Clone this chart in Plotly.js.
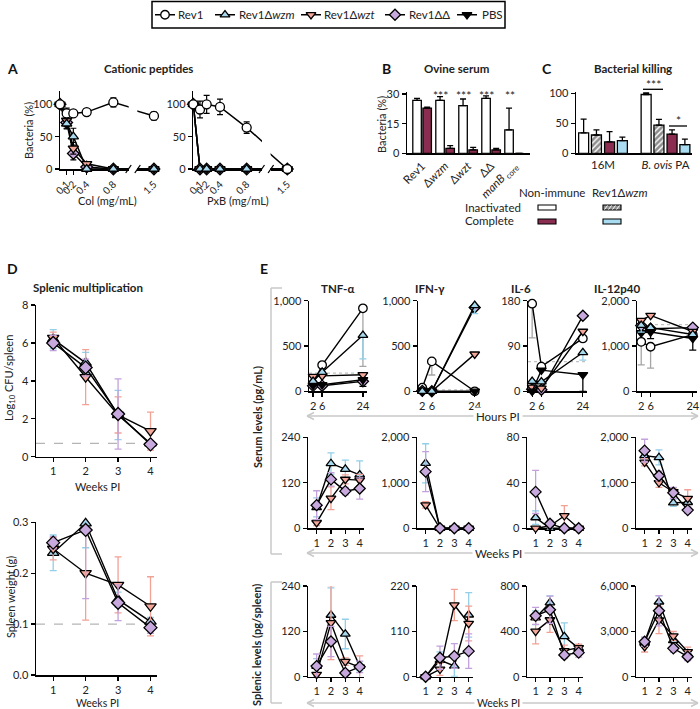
<!DOCTYPE html>
<html><head><meta charset="utf-8">
<script src="https://cdn.plot.ly/plotly-3.0.1.min.js"></script>
<style>html,body{margin:0;padding:0;background:#fff}#chart{width:700px;height:709px}</style>
</head><body><div id="chart"></div>
<script>
// ================= DATA =================
// Panel A – cationic peptides (Bacteria %)
const doses = [0, 0.1, 0.2, 0.4, 0.8, 1.5];
const doseTickVals1 = [0.1, 0.2, 0.4, 0.8];
const doseTickVals2 = [1.5];
const colRev1 = [100, 86, 86, 88, 103, 82];
const colRev1Err = [3, 8, 4, 5, 7, 6];
const colWzm = [100, 70, 50, 0, 0, 0];
const colWzmErr = [2, 8, 13, 1, 0, 0];
const colWzt = [100, 75, 32, 8, 0, 0];
const colWztErr = [2, 9, 9, 3, 0, 0];
const colDD = [100, 72, 24, 3, 0, 0];
const colDDErr = [2, 9, 10, 2, 0, 0];
const pxbRev1 = [100, 92, 100, 96, 64, 0];
const pxbRev1Err = [2, 13, 14, 12, 9, 2];
const pxbWzm = [100, 0, 0, 0, 0, 0];
const pxbWzt = [100, 0, 0, 0, 0, 0];
const pxbDD = [100, 0, 0, 0, 0, 0];
const pxbMutErr = [0, 0, 0, 0, 0, 0];

// Panel B – ovine serum
const serumStrains = ['Rev1', 'Δ<i>wzm</i>', 'Δ<i>wzt</i>', 'ΔΔ', '<i>manB</i><sub> core</sub>'];
const serumInactivated = [26.8, 26.8, 24.1, 27.8, 11.9];
const serumInactivatedErr = [1.0, 1.9, 3.4, 1.3, 11.0];
const serumComplete = [22.9, 2.5, 1.7, 1.7, 0];
const serumCompleteErr = [0.5, 1.4, 1.3, 0.8, 0];
const serumStars = ['', '***', '***', '***', '**'];
const serumTicks = [0, 15, 30];

// Panel C – bacterial killing
const killStrains = ['16M', '<i>B. ovis</i> PA'];
const killNonImmInact = [34, 98];
const killNonImmInactErr = [23, 2.5];
const killWzmInact = [30.5, 47];
const killWzmInactErr = [8.5, 9.7];
const killNonImmComp = [19, 32];
const killNonImmCompErr = [17, 7];
const killWzmComp = [21, 14.6];
const killWzmCompErr = [6, 9];
const killTicks = [0, 50, 100];

// Panel D – splenic multiplication
const weeks = [1, 2, 3, 4];
const cfuWzm = [6.2, 4.95, 2.2, 0.7];
const cfuWzmErr = [0.5, 0.55, 1.3, 0.05];
const cfuWzt = [6.27, 4.2, 2.2, 1.35];
const cfuWztErr = [0.3, 1.45, 0.95, 1.0];
const cfuDD = [6.0, 4.7, 2.25, 0.65];
const cfuDDErr = [0.4, 0.45, 1.85, 0.15];
const cfuLimit = 0.7;
const cfuTicks = [0, 2, 4, 6, 8];
const weightWzm = [0.24, 0.298, 0.148, 0.105];
const weightWzmErr = [0.035, 0.048, 0.015, 0.008];
const weightWzt = [0.248, 0.2, 0.177, 0.135];
const weightWztErr = [0.022, 0.092, 0.055, 0.058];
const weightDD = [0.26, 0.285, 0.142, 0.093];
const weightDDErr = [0.012, 0.135, 0.035, 0.011];
const weightLimit = 0.1;
const weightTicks = [0, 0.1, 0.2, 0.3];

// Panel E – cytokines
const cytokines = ['TNF-α', 'IFN-γ', 'IL-6', 'IL-12p40'];
const hoursPI = [2, 6, 24];
// Row 1: serum, hours PI  (errors are lower-only)
const tnfHRev1 = [80, 290, 916],   tnfHRev1Err = [0, 0, 640];
const tnfHWzm = [110, 211, 618],   tnfHWzmErr = [0, 0, 260];
const tnfHWzt = [164, 170, 182],   tnfHWztErr = [0, 0, 0];
const tnfHDD = [60, 62, 110],      tnfHDDErr = [0, 0, 0];
const tnfHPBS = [65, 73, 128],     tnfHPBSErr = [0, 0, 73];
const ifnHRev1 = [40, 330, 0],     ifnHRev1Err = [0, 150, 0];
const ifnHWzm = [0, 0, 948],       ifnHWzmErr = [0, 0, 90];
const ifnHWzt = [10, 0, 410],      ifnHWztErr = [0, 0, 0];
const ifnHDD = [5, 0, 925],        ifnHDDErr = [0, 0, 0];
const ifnHPBS = [0, 0, 0],         ifnHPBSErr = [0, 0, 0];
const il6HRev1 = [174, 49, 105],   il6HRev1Err = [68, 0, 0];
const il6HWzm = [20, 19, 77],      il6HWzmErr = [0, 0, 15];
const il6HWzt = [8, 6, 119],       il6HWztErr = [0, 0, 0];
const il6HDD = [4, 3, 150],        il6HDDErr = [0, 0, 0];
const il6HPBS = [0, 42, 33],       il6HPBSErr = [0, 0, 33];
const il12HRev1 = [1092, 983, 1250], il12HRev1Err = [510, 470, 0];
const il12HWzm = [1456, 1406, 1253], il12HWzmErr = [150, 0, 0];
const il12HWzt = [1565, 1675, 1320], il12HWztErr = [0, 0, 0];
const il12HDD = [1450, 1380, 1406],  il12HDDErr = [0, 0, 0];
const il12HPBS = [1290, 1310, 1165], il12HPBSErr = [0, 145, 255];
const serumHourRefs = [200, 15, 59, 1471];
const row1Max = [1000, 1000, 180, 2000];
const row1Ticks = [[0, 500, 1000], [0, 500, 1000], [0, 90, 180], [0, 1000, 2000]];
// Row 2: serum, weeks PI
const tnfSWzm = [55, 171, 156, 141],   tnfSWzmErr = [25, 28, 24, 37];
const tnfSWzt = [15, 79, 129, 127],    tnfSWztErr = [8, 30, 12, 15];
const tnfSDD = [61, 129, 98, 105],     tnfSDDErr = [38, 18, 10, 28];
const ifnSWzm = [1428, 0, 0, 0],       ifnSWzmErr = [430, 0, 0, 0];
const ifnSWzt = [513, 0, 0, 0],        ifnSWztErr = [70, 0, 0, 0];
const ifnSDD = [1245, 0, 0, 0],        ifnSDDErr = [440, 0, 0, 0];
const il6SWzm = [9.4, 0, 0, 0],        il6SWzmErr = [6, 0, 0, 0];
const il6SWzt = [0, 2, 11, 0],         il6SWztErr = [0, 1, 9, 0];
const il6SDD = [32, 4, 0, 0],          il6SDDErr = [19, 3, 0, 0];
const il12SWzm = [1597, 1557, 562, 570], il12SWzmErr = [150, 165, 80, 100];
const il12SWzt = [1451, 1000, 804, 657], il12SWztErr = [80, 100, 80, 190];
const il12SDD = [1707, 1154, 780, 400],  il12SDDErr = [250, 100, 120, 70];
const row2Max = [240, 2000, 80, 2000];
const row2Ticks = [[0, 120, 240], [0, 1000, 2000], [0, 40, 80], [0, 1000, 2000]];
// Row 3: spleen, weeks PI
const tnfPWzm = [28, 163, 113, 28],    tnfPWzmErr = [20, 72, 39, 12];
const tnfPWzt = [6, 143, 40, 25],      tnfPWztErr = [5, 98, 10, 30];
const tnfPDD = [28, 93, 10, 26],       tnfPDDErr = [32, 40, 8, 15];
const ifnPWzm = [0, 40, 26, 150],      ifnPWzmErr = [0, 20, 25, 54];
const ifnPWzt = [0, 18, 174, 129],     ifnPWztErr = [0, 15, 38, 42];
const ifnPDD = [0, 46, 50, 62],        ifnPDDErr = [0, 28, 30, 42];
const il6PWzm = [520, 653, 354, 250],  il6PWzmErr = [60, 60, 120, 30];
const il6PWzt = [400, 501, 229, 256],  il6PWztErr = [110, 110, 50, 30];
const il6PDD = [537, 590, 192, 212],   il6PDDErr = [75, 120, 30, 40];
const il12PWzm = [2300, 4950, 2400, 1500], il12PWzmErr = [300, 400, 400, 250];
const il12PWzt = [1984, 3750, 2690, 1650], il12PWztErr = [350, 900, 300, 300];
const il12PDD = [2315, 4365, 1876, 1323],  il12PDDErr = [300, 1000, 250, 250];
const row3Max = [240, 220, 800, 6000];
const row3Ticks = [[0, 120, 240], [0, 110, 220], [0, 400, 800], [0, 3000, 6000]];

// ================= STYLE / LAYOUT HELPERS =================
const W = 700, H = 709;
const FONT = 'Lato, "Open Sans", "Liberation Sans", sans-serif';
const PX = v => v / W;
const PY = v => 1 - v / H;
const SERIES = ['rev1', 'wzm', 'wzt', 'dd', 'pbs'];
const NAMES = {rev1: 'Rev1', wzm: 'Rev1Δ<i>wzm</i>', wzt: 'Rev1Δ<i>wzt</i>', dd: 'Rev1ΔΔ', pbs: 'PBS'};
const STY = {
  rev1: {symbol: 'circle', fill: '#ffffff', err: '#a5a5a5'},
  wzm: {symbol: 'triangle-up', fill: '#a8d9ee', err: '#93cfe8'},
  wzt: {symbol: 'triangle-down', fill: '#f4a89b', err: '#f2a195'},
  dd: {symbol: 'diamond', fill: '#c8a9dd', err: '#c3a1dc'},
  pbs: {symbol: 'triangle-down', fill: '#000000', err: '#000000'}
};
const MAROON = '#8b2d50', LIGHTBLUE = '#a9dcf0', HATCH = '#8e8e8e', GREY = '#c9c9c9';
function mk(key, size) {
  return {symbol: STY[key].symbol, color: STY[key].fill, size: size || 9, line: {color: '#000', width: 1.3}};
}

const layout = {
  width: W, height: H, margin: {l: 0, r: 0, t: 0, b: 0},
  paper_bgcolor: '#fff', plot_bgcolor: 'rgba(0,0,0,0)',
  font: {family: FONT, size: 11, color: '#222'},
  separators: '.,', barmode: 'overlay', hovermode: false,
  showlegend: false,
  shapes: [], annotations: []
};
function baseAxis() {
  return {showline: true, linecolor: '#000', linewidth: 1.5, ticks: 'outside', ticklen: 4,
    tickwidth: 1.3, tickcolor: '#000', showgrid: false, zeroline: false, fixedrange: true,
    layer: 'below traces', tickfont: {family: FONT, size: 11, color: '#222'}};
}
const key = (n, l) => (l === 'x' ? 'xaxis' : 'yaxis') + (n === 1 ? '' : n);
const id = (n, l) => l + (n === 1 ? '' : n);
function addX(n, x0, x1, range, anchorN, extra) {
  layout[key(n, 'x')] = Object.assign(baseAxis(), {domain: [PX(x0), PX(x1)], range: range, anchor: id(anchorN, 'y')}, extra || {});
}
function addY(n, top, bottom, range, anchorN, extra) {
  layout[key(n, 'y')] = Object.assign(baseAxis(), {domain: [PY(bottom), PY(top)], range: range, anchor: id(anchorN, 'x')}, extra || {});
}
function text(x, y, t, opts) {
  layout.annotations.push(Object.assign({xref: 'paper', yref: 'paper', x: PX(x), y: PY(y), text: t,
    showarrow: false, xanchor: 'center', yanchor: 'middle', font: {family: FONT, size: 11, color: '#222'}}, opts || {}));
}
function line(x0, y0, x1, y1, color, width, dash) {
  layout.shapes.push({type: 'line', xref: 'paper', yref: 'paper', x0: PX(x0), y0: PY(y0), x1: PX(x1), y1: PY(y1),
    line: {color: color || '#000', width: width || 1.3, dash: dash || 'solid'}});
}
function rect(x0, y0, x1, y1, fill, lw) {
  layout.shapes.push({type: 'rect', xref: 'paper', yref: 'paper', x0: PX(x0), y0: PY(y0), x1: PX(x1), y1: PY(y1),
    fillcolor: fill, line: {color: '#000', width: lw || 1.1}});
}
const traces = [];

// ================= TOP LEGEND (drawn on a hidden helper axis) =================
const legBox = [152, 505];
const legSampleX = [165, 225, 311, 395, 467];
const legTextX = [176, 237, 322, 407, 480];
rect(legBox[0], 1.5, legBox[1], 28, 'rgba(0,0,0,0)', 1.5);
addX(21, legBox[0], legBox[1], legBox, 21, {visible: false});
addY(21, 1.5, 28, [0, 1], 21, {visible: false});
SERIES.forEach((k, i) => {
  const cx = legSampleX[i];
  traces.push({type: 'scatter', mode: 'lines', x: [cx - 10, cx + 10], y: [0.5, 0.5], xaxis: 'x21', yaxis: 'y21',
    line: {color: '#000', width: 1.4}, showlegend: false, hoverinfo: 'skip'});
  traces.push({type: 'scatter', mode: 'markers', x: [cx], y: [0.5], xaxis: 'x21', yaxis: 'y21',
    marker: mk(k, 8.5), showlegend: false, hoverinfo: 'skip', cliponaxis: false});
  text(legTextX[i], 15, NAMES[k], {xanchor: 'left', font: {family: FONT, size: 11.5, color: '#222'}});
});

// ================= PANEL A =================
const aY = [91.4, 169];
const aTickFont = {family: FONT, size: 10, color: '#222'};
addY(1, aY[0], aY[1], [0, 120], 1, {tickvals: [0, 50, 100]});
addX(1, 60, 128.7, [0, 1.03], 1, {tickvals: doseTickVals1, tickangle: -45, tickfont: aTickFont});
addX(2, 137.3, 158.6, [1.25, 1.57], 1, {tickvals: doseTickVals2, tickangle: -45, tickfont: aTickFont});
addY(3, aY[0], aY[1], [0, 120], 3, {tickvals: [0, 50, 100]});
addX(3, 193.3, 262, [0, 1.03], 3, {tickvals: doseTickVals1, tickangle: -45, tickfont: aTickFont});
addX(4, 270.6, 292, [1.25, 1.57], 3, {tickvals: doseTickVals2, tickangle: -45, tickfont: aTickFont});

function peptidePanel(xa1, xa2, ya, list) {
  list.forEach(([vals]) => {
    [xa1, xa2].forEach(xa => traces.push({type: 'scatter', mode: 'lines', x: doses, y: vals, xaxis: xa, yaxis: ya,
      line: {color: '#000', width: 1.5}, showlegend: false, hoverinfo: 'skip'}));
  });
  list.forEach(([vals, errs, k]) => {
    [[xa1, d => d <= 1.03], [xa2, d => d >= 1.25]].forEach(([xa, inSeg]) => {
      const idx = doses.map((d, i) => i).filter(i => inSeg(doses[i]));
      traces.push({type: 'scatter', mode: 'markers', x: idx.map(i => doses[i]), y: idx.map(i => vals[i]),
        xaxis: xa, yaxis: ya, marker: mk(k, 9), cliponaxis: false, showlegend: false, hoverinfo: 'skip',
        error_y: {type: 'data', array: idx.map(i => errs[i]), color: '#000', thickness: 1.2, width: 3}});
    });
  });
}
peptidePanel('x', 'x2', 'y', [[colDD, colDDErr, 'dd'], [colWzt, colWztErr, 'wzt'], [colWzm, colWzmErr, 'wzm'], [colRev1, colRev1Err, 'rev1']]);
peptidePanel('x3', 'x4', 'y3', [[pxbDD, pxbMutErr, 'dd'], [pxbWzt, pxbMutErr, 'wzt'], [pxbWzm, pxbMutErr, 'wzm'], [pxbRev1, pxbRev1Err, 'rev1']]);
// axis break marks
[[128.7, 137.3], [262, 270.6]].forEach(([a, b]) => {
  line(a - 3, 173, a + 2.5, 165, '#000', 1.3);
  line(b - 2.5, 173, b + 3, 165, '#000', 1.3);
});
text(5, 69, '<b>A</b>', {xanchor: 'left', font: {family: FONT, size: 14, color: '#111'}});
text(148, 69, '<b>Cationic peptides</b>', {font: {family: FONT, size: 11.5, color: '#222'}});
text(29, 130, 'Bacteria (%)', {textangle: -90});
text(107, 200, 'Col (mg/mL)');
text(238, 200, 'PxB (mg/mL)');

// ================= PANEL B =================
const serumIdx = serumStrains.map((s, i) => i);
addX(5, 407, 530, [-0.652, 4.696], 5, {tickvals: serumIdx, ticktext: serumStrains, tickangle: -45, ticks: '',
  tickfont: {family: FONT, size: 11.5, color: '#222'}});
addY(5, 91.7, 153.3, [0, 31.2], 5, {tickvals: serumTicks});
const zeros = n => new Array(n).fill(0);
traces.push({type: 'bar', x: serumIdx, y: serumInactivated, xaxis: 'x5', yaxis: 'y5', width: 0.37, offset: -0.4,
  marker: {color: '#fff', line: {color: '#000', width: 1.3}}, showlegend: false, hoverinfo: 'skip',
  error_y: {type: 'data', symmetric: false, array: serumInactivatedErr, arrayminus: zeros(5), color: '#000', thickness: 1.3, width: 3}});
traces.push({type: 'bar', x: serumIdx, y: serumComplete, xaxis: 'x5', yaxis: 'y5', width: 0.37, offset: 0.04,
  marker: {color: MAROON, line: {color: '#000', width: 1.3}}, showlegend: false, hoverinfo: 'skip',
  error_y: {type: 'data', symmetric: false, array: serumCompleteErr, arrayminus: zeros(5), color: '#000', thickness: 1.3, width: 3}});
serumStars.forEach((s, i) => {
  if (s) layout.annotations.push({xref: 'x5', yref: 'paper', x: i - 0.18, y: PY(95), text: s, showarrow: false,
    yanchor: 'middle', font: {family: FONT, size: 12, color: '#222'}});
});
text(380, 69, '<b>B</b>', {xanchor: 'left', font: {family: FONT, size: 14, color: '#111'}});
text(457, 69, '<b>Ovine serum</b>', {font: {family: FONT, size: 11.5, color: '#222'}});
text(382, 125, 'Bacteria (%)', {textangle: -90});

// ================= PANEL C =================
const killIdx = killStrains.map((s, i) => i);
addX(6, 576, 692, [-0.432, 1.424], 6, {tickvals: killIdx, ticktext: killStrains, ticks: '',
  tickfont: {family: FONT, size: 11.5, color: '#222'}});
addY(6, 91.5, 153.3, [0, 103], 6, {tickvals: killTicks});
[[killNonImmInact, killNonImmInactErr, -0.39, {color: '#fff'}],
 [killWzmInact, killWzmInactErr, -0.185, {color: HATCH, pattern: {shape: '/', fgcolor: '#ffffff', bgcolor: HATCH, size: 4, solidity: 0.35}}],
 [killNonImmComp, killNonImmCompErr, 0.025, {color: MAROON}],
 [killWzmComp, killWzmCompErr, 0.23, {color: LIGHTBLUE}]].forEach(([v, e, off, m]) => {
  traces.push({type: 'bar', x: killIdx, y: v, xaxis: 'x6', yaxis: 'y6', width: 0.16, offset: off,
    marker: Object.assign({line: {color: '#000', width: 1.3}}, m), showlegend: false, hoverinfo: 'skip',
    error_y: {type: 'data', symmetric: false, array: e, arrayminus: zeros(2), color: '#000', thickness: 1.3, width: 3}});
});
line(643, 89.3, 663, 89.3, '#000', 1.3);
text(653, 84, '***', {font: {family: FONT, size: 12, color: '#222'}});
line(669, 126, 687, 126, '#000', 1.3);
text(678, 121, '*', {font: {family: FONT, size: 12, color: '#222'}});
text(540, 69, '<b>C</b>', {xanchor: 'left', font: {family: FONT, size: 14, color: '#111'}});
text(633, 69, '<b>Bacterial killing</b>', {font: {family: FONT, size: 11.5, color: '#222'}});
// B/C legend
text(552, 192, 'Non-immune', {font: {family: FONT, size: 11.5, color: '#222'}});
text(619, 192, 'Rev1Δ<i>wzm</i>', {font: {family: FONT, size: 11.5, color: '#222'}});
text(463, 207, 'Inactivated', {xanchor: 'left', font: {family: FONT, size: 11.5, color: '#222'}});
text(463, 221, 'Complete', {xanchor: 'left', font: {family: FONT, size: 11.5, color: '#222'}});
rect(538, 205, 556, 210, '#fff');
rect(603, 205, 621, 210, HATCH);
[606, 610, 614, 618].forEach(x => line(x - 1.5, 209.5, x + 1.5, 205.5, '#fff', 1));
rect(538, 219, 556, 224, MAROON);
rect(603, 219, 621, 224, LIGHTBLUE);

// ================= PANEL D =================
addX(7, 36, 157, [0.47, 4.2], 7, {tickvals: weeks});
addY(7, 305, 456.7, [0, 8], 7, {tickvals: cfuTicks});
addX(8, 36, 157, [0.47, 4.2], 8, {tickvals: weeks});
addY(8, 522.3, 675, [0, 0.3], 8, {tickvals: weightTicks, tickformat: '.1f'});
layout.shapes.push({type: 'line', xref: 'x7 domain', yref: 'y7', x0: 0, x1: 1, y0: cfuLimit, y1: cfuLimit, layer: 'below',
  line: {color: '#b5b5b5', width: 1.3, dash: 'dash'}});
layout.shapes.push({type: 'line', xref: 'x8 domain', yref: 'y8', x0: 0, x1: 1, y0: weightLimit, y1: weightLimit, layer: 'below',
  line: {color: '#b5b5b5', width: 1.3, dash: 'dash'}});
function seriesTrace(xv, yv, err, k, xa, ya, minusOnly, size) {
  const eb = minusOnly
    ? {type: 'data', symmetric: false, array: yv.map(() => 0), arrayminus: err, color: STY[k].err, thickness: 1.3, width: 3.5}
    : {type: 'data', array: err, color: STY[k].err, thickness: 1.3, width: 3.5};
  return {type: 'scatter', mode: 'lines+markers', x: xv, y: yv, xaxis: xa, yaxis: ya, name: NAMES[k],
    showlegend: false, hoverinfo: 'skip', line: {color: '#000', width: 1.4}, marker: mk(k, size || 8.5),
    cliponaxis: false, error_y: eb};
}
[[cfuWzm, cfuWzmErr, 'wzm'], [cfuWzt, cfuWztErr, 'wzt'], [cfuDD, cfuDDErr, 'dd']].forEach(([v, e, k]) =>
  traces.push(seriesTrace(weeks, v, e, k, 'x7', 'y7', false, 10)));
[[weightWzm, weightWzmErr, 'wzm'], [weightWzt, weightWztErr, 'wzt'], [weightDD, weightDDErr, 'dd']].forEach(([v, e, k]) =>
  traces.push(seriesTrace(weeks, v, e, k, 'x8', 'y8', false, 10)));
text(5, 268, '<b>D</b>', {xanchor: 'left', font: {family: FONT, size: 14, color: '#111'}});
text(88, 287, '<b>Splenic multiplication</b>', {font: {family: FONT, size: 11.5, color: '#222'}});
text(10, 378, 'Log<sub>10</sub> CFU/spleen', {textangle: -90});
text(97, 486, 'Weeks PI');
text(10, 597, 'Spleen weight (g)', {textangle: -90});
text(97, 702.5, 'Weeks PI', {font: {family: FONT, size: 10.5, color: '#222'}});

// ================= PANEL E =================
const eRowY = [[300.7, 391.3], [437.3, 528.3], [586, 676.7]];
const eColX1 = [[309, 367], [418, 479], [528, 587], [637, 697]];
const eColX = [[308, 364], [417, 473], [527, 583], [636, 692]];
const eTitleX = [337, 430, 521, 617];
const rowMax = [row1Max, row2Max, row3Max];
const rowTicks = [row1Ticks, row2Ticks, row3Ticks];
// drawing order in row 1: Rev1 first, Rev1Δwzm on top
const row1Data = [
  [['rev1', tnfHRev1, tnfHRev1Err], ['dd', tnfHDD, tnfHDDErr], ['wzt', tnfHWzt, tnfHWztErr], ['pbs', tnfHPBS, tnfHPBSErr], ['wzm', tnfHWzm, tnfHWzmErr]],
  [['rev1', ifnHRev1, ifnHRev1Err], ['dd', ifnHDD, ifnHDDErr], ['wzt', ifnHWzt, ifnHWztErr], ['pbs', ifnHPBS, ifnHPBSErr], ['wzm', ifnHWzm, ifnHWzmErr]],
  [['rev1', il6HRev1, il6HRev1Err], ['dd', il6HDD, il6HDDErr], ['wzt', il6HWzt, il6HWztErr], ['pbs', il6HPBS, il6HPBSErr], ['wzm', il6HWzm, il6HWzmErr]],
  [['rev1', il12HRev1, il12HRev1Err], ['dd', il12HDD, il12HDDErr], ['wzt', il12HWzt, il12HWztErr], ['pbs', il12HPBS, il12HPBSErr], ['wzm', il12HWzm, il12HWzmErr]]
];
const row2Data = [
  [['wzm', tnfSWzm, tnfSWzmErr], ['wzt', tnfSWzt, tnfSWztErr], ['dd', tnfSDD, tnfSDDErr]],
  [['wzm', ifnSWzm, ifnSWzmErr], ['wzt', ifnSWzt, ifnSWztErr], ['dd', ifnSDD, ifnSDDErr]],
  [['wzm', il6SWzm, il6SWzmErr], ['wzt', il6SWzt, il6SWztErr], ['dd', il6SDD, il6SDDErr]],
  [['wzm', il12SWzm, il12SWzmErr], ['wzt', il12SWzt, il12SWztErr], ['dd', il12SDD, il12SDDErr]]
];
const row3Data = [
  [['wzm', tnfPWzm, tnfPWzmErr], ['wzt', tnfPWzt, tnfPWztErr], ['dd', tnfPDD, tnfPDDErr]],
  [['wzm', ifnPWzm, ifnPWzmErr], ['wzt', ifnPWzt, ifnPWztErr], ['dd', ifnPDD, ifnPDDErr]],
  [['wzm', il6PWzm, il6PWzmErr], ['wzt', il6PWzt, il6PWztErr], ['dd', il6PDD, il6PDDErr]],
  [['wzm', il12PWzm, il12PWzmErr], ['wzt', il12PWzt, il12PWztErr], ['dd', il12PDD, il12PDDErr]]
];
const rowData = [row1Data, row2Data, row3Data];
for (let r = 0; r < 3; r++) {
  for (let c = 0; c < 4; c++) {
    const n = 9 + r * 4 + c;
    const xd = r === 0 ? eColX1[c] : eColX[c];
    if (r === 0) addX(n, xd[0], xd[1], [0.2, 25.8], n, {tickvals: hoursPI});
    else addX(n, xd[0], xd[1], [0.4, 4.3], n, {tickvals: weeks});
    addY(n, eRowY[r][0], eRowY[r][1], [0, rowMax[r][c]], n, {tickvals: rowTicks[r][c], tickformat: ',d'});
    const xv = r === 0 ? hoursPI : weeks;
    rowData[r][c].forEach(([k, v, e]) => {
      traces.push(seriesTrace(xv, v, e, k, id(n, 'x'), id(n, 'y'), r === 0, 8.5));
    });
    if (r === 0) {
      layout.shapes.push({type: 'line', xref: id(n, 'x') + ' domain', yref: id(n, 'y'), x0: 0, x1: 1,
        y0: serumHourRefs[c], y1: serumHourRefs[c], layer: 'below', line: {color: '#c2c2c2', width: 1.2, dash: 'dot'}});
    }
  }
}
cytokines.forEach((t, c) => text(eTitleX[c], 288, '<b>' + t + '</b>', {font: {family: FONT, size: 11.5, color: '#222'}}));
text(258, 268, '<b>E</b>', {xanchor: 'left', font: {family: FONT, size: 14, color: '#111'}});
text(257, 417, '<b>Serum levels (pg/mL)</b>', {textangle: -90});
text(256, 645, '<b>Splenic levels (pg/spleen)</b>', {textangle: -90});
// brackets
line(271, 288, 271, 554, GREY, 1.5); line(271, 288, 282, 288, GREY, 1.5); line(271, 554, 282, 554, GREY, 1.5);
line(271, 582, 271, 703, GREY, 1.5); line(271, 582, 282, 582, GREY, 1.5); line(271, 703, 282, 703, GREY, 1.5);
// double arrows with labels
[[416, 416, 'Hours PI'], [553, 553, 'Weeks PI'], [703, 702.5, 'Weeks PI']].forEach(([y, ty, t]) => {
  line(307, y, 698, y, GREY, 1.4);
  line(307, y, 314, y - 3.5, GREY, 1.4); line(307, y, 314, y + 3.5, GREY, 1.4);
  line(698, y, 691, y - 3.5, GREY, 1.4); line(698, y, 691, y + 3.5, GREY, 1.4);
  text(498, ty, t, {bgcolor: '#fff', borderpad: 2, font: {family: FONT, size: ty > 700 ? 10.5 : 11.5, color: '#222'}});
});

Plotly.newPlot('chart', traces, layout, {staticPlot: true, displayModeBar: false});
</script>
</body></html>
